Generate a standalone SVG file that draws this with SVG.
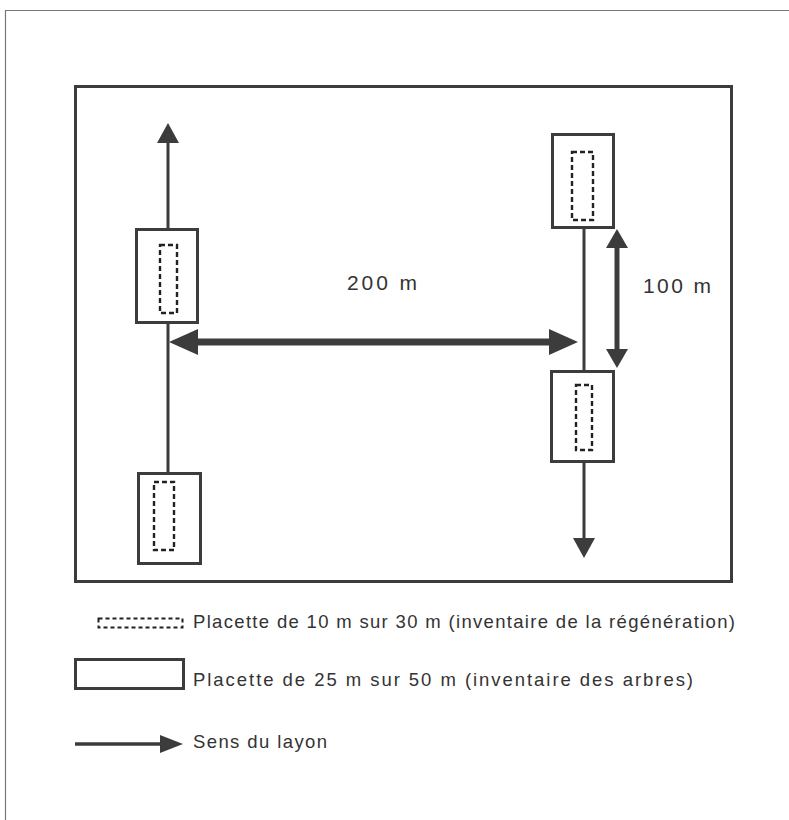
<svg xmlns="http://www.w3.org/2000/svg" width="789" height="820" viewBox="0 0 789 820">
<defs>
<style>
.frame{fill:none;stroke:#3c3c3c;stroke-width:3}
.plot{fill:#fff;stroke:#3c3c3c;stroke-width:3}
.sub{fill:none;stroke:#222;stroke-width:2.4;stroke-dasharray:5 3}
.line{stroke:#3c3c3c;stroke-width:3;fill:none}
.head{fill:#3c3c3c}
.lbl{font-family:"Liberation Sans",Arial,sans-serif;fill:#333;font-size:21px}
.leg{font-family:"Liberation Sans",Arial,sans-serif;fill:#333;font-size:18.5px}
</style>
</defs>
<rect width="789" height="820" fill="#fff"/>
<path d="M5.5,820 V10.5 H789" fill="none" stroke="#777" stroke-width="1.2"/>
<rect class="frame" x="75.5" y="86.5" width="656" height="495"/>

<g id="connectors">
<line class="line" x1="168" y1="140" x2="168" y2="473"/>
<polygon class="head" points="168,123 157,143 179,143"/>
<line class="line" x1="584" y1="228" x2="584" y2="540"/>
<polygon class="head" points="584,558 573,538 595,538"/>
<line x1="195" y1="342" x2="552" y2="342" stroke="#3c3c3c" stroke-width="7"/>
<polygon class="head" points="169,342 198,329 198,355"/>
<polygon class="head" points="578,342 549,329 549,355"/>
<line x1="617" y1="245" x2="617" y2="352" stroke="#3c3c3c" stroke-width="5"/>
<polygon class="head" points="617,229 606,248 628,248"/>
<polygon class="head" points="617,368 606,349 628,349"/>
</g>

<g id="plot-left-top">
<rect class="plot" x="136.5" y="229.5" width="61" height="93"/>
<rect class="sub" x="160" y="245" width="17" height="68"/>
</g>
<g id="plot-left-bottom">
<rect class="plot" x="138.5" y="473.5" width="62" height="90"/>
<rect class="sub" x="154" y="482" width="20" height="68"/>
</g>
<g id="plot-right-top">
<rect class="plot" x="552.5" y="134.5" width="61" height="93"/>
<rect class="sub" x="572" y="152" width="21" height="68"/>
</g>
<g id="plot-right-bottom">
<rect class="plot" x="551.5" y="371.5" width="62" height="90"/>
<rect class="sub" x="576" y="385" width="16" height="65"/>
</g>

<g id="label-200">
<text class="lbl" x="347" y="290" textLength="70" lengthAdjust="spacing">200 m</text>
</g>
<g id="label-100">
<text class="lbl" x="643" y="293" textLength="68" lengthAdjust="spacing">100 m</text>
</g>

<g id="legend-sub">
<rect x="98.5" y="618.5" width="84" height="9" fill="none" stroke="#222" stroke-width="2" stroke-dasharray="4 3"/>
<text class="leg" x="193" y="628" textLength="542" lengthAdjust="spacing">Placette de 10 m sur 30 m (inventaire de la régénération)</text>
</g>
<g id="legend-plot">
<rect class="plot" x="75.5" y="659.5" width="108" height="29"/>
<text class="leg" x="193" y="686" textLength="500" lengthAdjust="spacing">Placette de 25 m sur 50 m (inventaire des arbres)</text>
</g>
<g id="legend-arrow">
<line x1="75" y1="744" x2="162" y2="744" stroke="#3c3c3c" stroke-width="3.5"/>
<polygon class="head" points="183,744 160,735 160,753"/>
<text class="leg" x="193" y="748" textLength="134" lengthAdjust="spacing">Sens du layon</text>
</g>
</svg>
